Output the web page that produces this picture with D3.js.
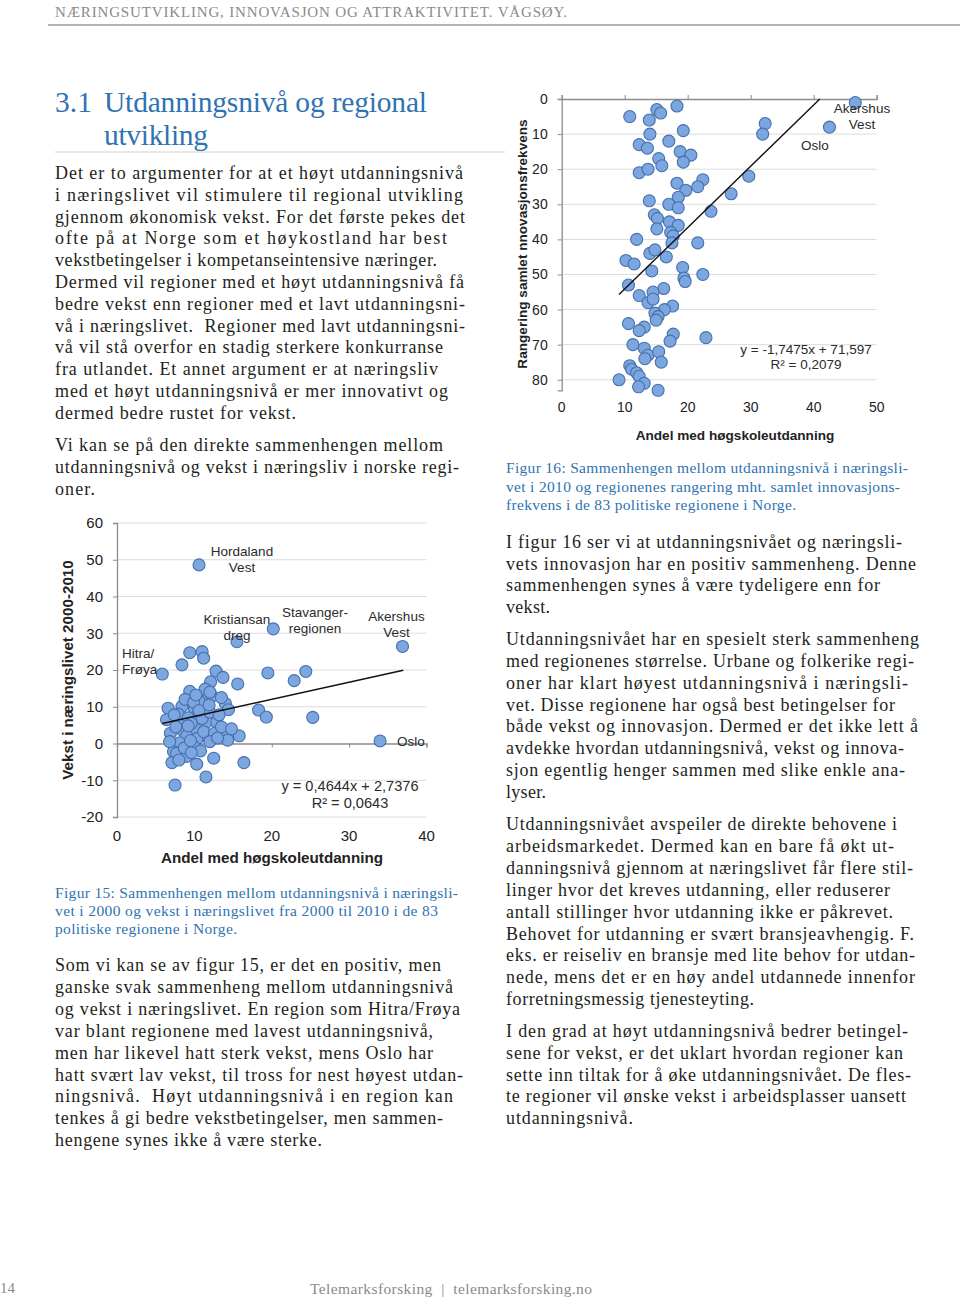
<!DOCTYPE html>
<html><head><meta charset="utf-8">
<script src="https://cdn.jsdelivr.net/npm/d3@7/dist/d3.min.js"></script>
<style>body{margin:0;background:#fff}svg{display:block}</style>
</head><body>
<svg id="page" width="960" height="1298"></svg>
<script>
// ---------- DATA ----------
// Figure 15: share with higher education (x) vs. growth 2000-2010 (y)
const fig15X = [10.6,15.5,20.2,36.9,34.0,5.85,9.4,11.0,11.2,8.4,12.8,13.7,12.1,15.6,9.4,11.4,19.5,22.9,24.4,11.6,12.3,10.6,14.0,14.4,18.3,19.3,25.3,6.6,8.4,10.0,6.4,8.1,10.3,11.6,12.9,10.1,8.4,6.9,9.0,10.4,11.8,14.3,14.3,15.8,8.1,10.0,7.3,7.7,9.0,7.1,10.3,12.5,16.4,11.5,7.5,
  7.9,9.2,9.6,11.0,12.0,13.2,8.8,9.9,7.6,11.2,12.6,13.5,8.7,9.5,10.8,12.0,13.0,6.8,7.4,9.2,10.6,11.9,13.5,12.0,10.2,14.8,8.0,9.6];
const fig15Y = [48.6,27.7,31.2,26.4,0.7,18.9,24.7,25.0,23.2,21.4,19.7,18.0,16.8,16.2,14.2,14.8,19.2,17.1,19.6,11.9,12.9,11.6,10.9,9.2,9.1,7.2,7.1,9.6,10.1,9.6,6.5,6.1,7.5,5.9,5.9,4.1,3.7,2.8,2.1,1.4,1.7,2.3,0.9,2.1,0.2,-0.9,-2.2,-2.7,-3.5,-5.2,-5.6,-4.0,-5.2,-9.1,-11.3,
  8.0,7.0,5.5,6.8,8.5,7.8,12.0,11.2,4.5,3.2,2.8,4.5,-1.2,0.8,-2.0,0.5,1.5,0.5,7.8,4.8,9.0,10.5,12.5,14.0,13.2,4.0,-4.5,-2.5];
const fig15Labels = [["Hordaland","Vest"],["Kristiansan","dreg"],["Stavanger-","regionen"],["Akershus","Vest"],["Hitra/","Frøya"],["Oslo"]];
const fig15XTicks = [0,10,20,30,40];
const fig15YTicks = [60,50,40,30,20,10,0,-10,-20];
const fig15Trend = {slope:0.4644, intercept:2.7376, from:5.85, to:37.0};
const fig15Eq = ["y = 0,4644x + 2,7376","R² = 0,0643"];

// Figure 16: share with higher education (x) vs. innovation rank (y)
const fig16X = [10.8,15.1,15.7,18.3,13.9,14.0,19.3,12.3,13.6,17.0,18.8,20.5,15.4,19.3,15.9,12.3,13.7,18.3,22.4,21.6,19.7,18.5,26.9,13.9,17.0,18.5,23.7,14.7,15.2,17.1,18.5,15.1,17.3,17.7,11.9,17.5,21.6,14.0,14.8,16.6,10.2,11.5,14.3,19.2,19.4,22.4,
  19.6,10.6,16.2,14.5,12.3,13.7,14.5,17.6,16.3,14.8,15.3,15.0,10.6,13.1,12.3,17.7,17.2,22.9,11.3,13.1,13.7,13.2,15.4,15.8,10.8,11.1,11.9,12.3,9.1,13.1,12.2,15.3,
  46.6,32.3,31.9,42.5,29.7];
const fig16Y = [5,3,4,2,6,10,9,13,14,12,15,16,17,18,19,21,20,24,23,25,26,28,27,29,30,31,32,33,34,35,36,37,38,39,40,41,41,44,43,45,46,47,49,48,51,50,
  52,53,54,55,56,58,57,59,60,61,62,63,64,65,66,67,69,68,70,71,73,74,72,75,76,77,78,79,80,81,82,83,
  1,7,10,8,22];
const fig16Labels = [["Akershus","Vest"],["Oslo"]];
const fig16XTicks = [0,10,20,30,40,50];
const fig16YTicks = [0,10,20,30,40,50,60,70,80];
const fig16Trend = {slope:-1.7475, intercept:71.597, from:9.1, to:40.97};
const fig16Eq = ["y = -1,7475x + 71,597","R² = 0,2079"];

// ---------- PAGE TEXT ----------
const headerText = "NÆRINGSUTVIKLING, INNOVASJON OG ATTRAKTIVITET. VÅGSØY.";
const titleLines = ["Utdanningsnivå og regional","utvikling"];
const leftPara1 = [
 ["Det er to argumenter for at et høyt utdanningsnivå",463],
 ["i næringslivet vil stimulere til regional utvikling",463],
 ["gjennom økonomisk vekst. For det første pekes det",465],
 ["ofte på at Norge som et høykostland har best",447],
 ["vekstbetingelser i kompetanseintensive næringer.",437],
 ["Dermed vil regioner med et høyt utdanningsnivå få",464],
 ["bedre vekst enn regioner med et lavt utdanningsni-",465],
 ["vå i næringslivet.  Regioner med lavt utdanningsni-",465],
 ["vå vil stå overfor en stadig sterkere konkurranse",443],
 ["fra utlandet. Et annet argument er at næringsliv",438],
 ["med et høyt utdanningsnivå er mer innovativt og",448],
 ["dermed bedre rustet for vekst.",296]];
const leftPara2 = [
 ["Vi kan se på den direkte sammenhengen mellom",443],
 ["utdanningsnivå og vekst i næringsliv i norske regi-",459],
 ["oner.",95]];
const cap15 = [
 ["Figur 15: Sammenhengen mellom utdanningsnivå i næringsli-",458],
 ["vet i 2000 og vekst i næringslivet fra 2000 til 2010 i de 83",438],
 ["politiske regionene i Norge.",237]];
const leftPara3 = [
 ["Som vi kan se av figur 15, er det en positiv, men",441],
 ["ganske svak sammenheng mellom utdanningsnivå",453],
 ["og vekst i næringslivet. En region som Hitra/Frøya",460],
 ["var blant regionene med lavest utdanningsnivå,",433],
 ["men har likevel hatt sterk vekst, mens Oslo har",433],
 ["hatt svært lav vekst, til tross for nest høyest utdan-",463],
 ["ningsnivå.  Høyt utdanningsnivå i en region kan",453],
 ["tenkes å gi bedre vekstbetingelser, men sammen-",443],
 ["hengene synes ikke å være sterke.",322]];
const cap16 = [
 ["Figur 16: Sammenhengen mellom utdanningsnivå i næringsli-",908],
 ["vet i 2010 og regionenes rangering mht. samlet innovasjons-",900],
 ["frekvens i de 83 politiske regionene i Norge.",796]];
const rightPara1 = [
 ["I figur 16 ser vi at utdanningsnivået og næringsli-",902],
 ["vets innovasjon har en positiv sammenheng. Denne",916],
 ["sammenhengen synes å være tydeligere enn for",880],
 ["vekst.",550]];
const rightPara2 = [
 ["Utdanningsnivået har en spesielt sterk sammenheng",919],
 ["med regionenes størrelse. Urbane og folkerike regi-",914],
 ["oner har klart høyest utdanningsnivå i næringsli-",908],
 ["vet. Disse regionene har også best betingelser for",895],
 ["både vekst og innovasjon. Dermed er det ikke lett å",918],
 ["avdekke hvordan utdanningsnivå, vekst og innova-",904],
 ["sjon egentlig henger sammen med slike enkle ana-",905],
 ["lyser.",546]];
const rightPara3 = [
 ["Utdanningsnivået avspeiler de direkte behovene i",897],
 ["arbeidsmarkedet. Dermed kan en bare få økt ut-",894],
 ["danningsnivå gjennom at næringslivet får flere stil-",913],
 ["linger hvor det kreves utdanning, eller reduserer",890],
 ["antall stillinger hvor utdanning ikke er påkrevet.",893],
 ["Behovet for utdanning er svært bransjeavhengig. F.",914],
 ["eks. er reiseliv en bransje med lite behov for utdan-",915],
 ["nede, mens det er en høy andel utdannede innenfor",915],
 ["forretningsmessig tjenesteyting.",754]];
const rightPara4 = [
 ["I den grad at høyt utdanningsnivå bedrer betingel-",908],
 ["sene for vekst, er det uklart hvordan regioner kan",903],
 ["sette inn tiltak for å øke utdanningsnivået. De fles-",911],
 ["te regioner vil ønske vekst i arbeidsplasser uansett",906],
 ["utdanningsnivå.",633]];

// ---------- DRAW ----------
const svg = d3.select("#page");
const SERIF = "'Liberation Serif','DejaVu Serif',serif";
const SANS = "'Liberation Sans',Arial,sans-serif";
const BLUE = "#2f73b1";

function block(lines, x, y0, dy, size, color){
  lines.forEach(([t,right],i)=>{
    const el = svg.append("text").attr("x",x).attr("y",y0+i*dy)
      .attr("font-family",SERIF).attr("font-size",size).attr("fill",color).text(t)
      .style("white-space","pre");
    const w = el.node().getComputedTextLength();
    const target = right - x;
    if (Math.abs(w-target) > 1) el.attr("textLength",target).attr("lengthAdjust","spacing");
  });
}

// header
svg.append("text").attr("x",55).attr("y",17).attr("font-family",SERIF).attr("font-size",15)
  .attr("fill","#8a8a8a").attr("textLength",512).attr("lengthAdjust","spacing").text(headerText);
svg.append("line").attr("x1",48).attr("x2",960).attr("y1",25).attr("y2",25).attr("stroke","#9a9a9a").attr("stroke-width",1.5);

// title
svg.append("text").attr("x",55).attr("y",112).attr("font-family",SERIF).attr("font-size",29.5).attr("fill",BLUE).text("3.1");
svg.append("text").attr("x",104).attr("y",112).attr("font-family",SERIF).attr("font-size",29.5).attr("fill",BLUE)
  .attr("textLength",323).attr("lengthAdjust","spacing").text(titleLines[0]);
svg.append("text").attr("x",104).attr("y",145).attr("font-family",SERIF).attr("font-size",29.5).attr("fill",BLUE)
  .attr("textLength",104).attr("lengthAdjust","spacing").text(titleLines[1]);
svg.append("line").attr("x1",55).attr("x2",505).attr("y1",152).attr("y2",152).attr("stroke","#d0d0d0").attr("stroke-width",1);

const TXT = "#231f20";
block(leftPara1,55,179,21.8,18,TXT);
block(leftPara2,55,451,21.8,18,TXT);
block(cap15,55,898,18,15.5,BLUE);
block(leftPara3,55,971,21.9,18,TXT);
block(cap16,506,473,18.5,15.5,BLUE);
block(rightPara1,506,548,21.7,18,TXT);
block(rightPara2,506,645,21.86,18,TXT);
block(rightPara3,506,830,21.9,18,TXT);
block(rightPara4,506,1037,21.75,18,TXT);

// footer
svg.append("text").attr("x",0).attr("y",1293).attr("font-family",SERIF).attr("font-size",15).attr("fill","#8a8a8a").text("14");
svg.append("text").attr("x",451).attr("y",1294).attr("text-anchor","middle").attr("font-family",SERIF).attr("font-size",15.5)
  .attr("fill","#8a8a8a").style("white-space","pre").attr("textLength",282).attr("lengthAdjust","spacing")
  .text("Telemarksforsking  |  telemarksforsking.no");

// ---------- chart helpers ----------
const PT_FILL = "#7ba6df", PT_STROKE = "#4770ad", GRID = "#dcdcdc", AXIS = "#8c8c8c";
function points(g, xs, ys, x, y){
  g.selectAll("circle.pt").data(xs.map((v,i)=>[v,ys[i]])).join("circle").attr("class","pt")
    .attr("cx",d=>x(d[0])).attr("cy",d=>y(d[1])).attr("r",6)
    .attr("fill",PT_FILL).attr("stroke",PT_STROKE).attr("stroke-width",1.1);
}
function label(g, lines, cx, cy, anchor, size){
  lines.forEach((t,i)=>g.append("text").attr("x",cx).attr("y",cy+i*16).attr("dy","0.35em")
    .attr("text-anchor",anchor||"middle").attr("font-family",SANS).attr("font-size",size||13.5).attr("fill","#2b2b2b").text(t));
}
const fmt = d => String(d);

// ---------- Figure 15 ----------
{
  const g = svg.append("g");
  const x = d3.scaleLinear().domain([0,40]).range([117,426.5]);
  const y = d3.scaleLinear().domain([-20,60]).range([817,523]);
  g.selectAll("line.grid").data(fig15YTicks.filter(v=>v!==0)).join("line").attr("class","grid")
    .attr("x1",x(0)).attr("x2",x(40)).attr("y1",d=>y(d)).attr("y2",d=>y(d)).attr("stroke",GRID).attr("stroke-width",1);
  const ya = g.append("g").attr("transform",`translate(${x(0)},0)`)
    .call(d3.axisLeft(y).tickValues(fig15YTicks).tickSize(4).tickPadding(10).tickFormat(fmt));
  const xa = g.append("g").attr("transform",`translate(0,${y(0)})`)
    .call(d3.axisBottom(x).tickValues(fig15XTicks).tickSize(4).tickFormat(""));
  [ya,xa].forEach(a=>{a.select(".domain").attr("stroke",AXIS).attr("stroke-width",1.3);
    a.selectAll(".tick line").attr("stroke",AXIS);
    a.selectAll("text").attr("font-family",SANS).attr("font-size",15).attr("fill","#222");});
  g.selectAll("text.xl").data(fig15XTicks).join("text").attr("class","xl")
    .attr("x",d=>x(d)).attr("y",836).attr("dy","0.35em").attr("text-anchor","middle")
    .attr("font-family",SANS).attr("font-size",15).attr("fill","#222").text(fmt);
  points(g, fig15X, fig15Y, x, y);
  g.append("line").attr("x1",x(fig15Trend.from)).attr("y1",y(fig15Trend.slope*fig15Trend.from+fig15Trend.intercept))
    .attr("x2",x(fig15Trend.to)).attr("y2",y(fig15Trend.slope*fig15Trend.to+fig15Trend.intercept))
    .attr("stroke","#111").attr("stroke-width",1.4);
  label(g, fig15Labels[0], 242, 551);
  label(g, fig15Labels[1], 237, 619);
  label(g, fig15Labels[2], 315, 612);
  label(g, fig15Labels[3], 396.5, 616);
  label(g, fig15Labels[4], 122, 653, "start");
  label(g, fig15Labels[5], 397, 741, "start");
  label(g, fig15Eq.slice(0,1), 350, 786, "middle", 14.6);
  label(g, fig15Eq.slice(1), 350, 803, "middle", 14.6);
  g.append("text").attr("transform","translate(68,670) rotate(-90)").attr("dy","0.35em").attr("text-anchor","middle")
    .attr("font-family",SANS).attr("font-weight","bold").attr("font-size",15.2).attr("fill","#222").text("Vekst i næringslivet 2000-2010");
  g.append("text").attr("x",272).attr("y",858).attr("dy","0.35em").attr("text-anchor","middle")
    .attr("font-family",SANS).attr("font-weight","bold").attr("font-size",15.2).attr("fill","#222").text("Andel med høgskoleutdanning");
}

// ---------- Figure 16 ----------
{
  const g = svg.append("g");
  const x = d3.scaleLinear().domain([0,50]).range([561.7,876.7]);
  const y = d3.scaleLinear().domain([0,83]).range([99,390.3]);
  g.selectAll("line.grid").data(fig16YTicks.filter(v=>v!==0)).join("line").attr("class","grid")
    .attr("x1",x(0)).attr("x2",x(50)).attr("y1",d=>y(d)).attr("y2",d=>y(d)).attr("stroke",GRID).attr("stroke-width",1);
  const ya = g.append("g").attr("transform",`translate(${x(0)},0)`)
    .call(d3.axisLeft(y).tickValues(fig16YTicks).tickSize(4).tickPadding(10).tickFormat(fmt));
  const xa = g.append("g").attr("transform",`translate(0,${y(0)})`)
    .call(d3.axisTop(x).tickValues(fig16XTicks).tickSize(4).tickFormat(""));
  [ya,xa].forEach(a=>{a.select(".domain").attr("stroke",AXIS).attr("stroke-width",1.3);
    a.selectAll(".tick line").attr("stroke",AXIS);
    a.selectAll("text").attr("font-family",SANS).attr("font-size",14).attr("fill","#222");});
  g.selectAll("text.xl").data(fig16XTicks).join("text").attr("class","xl")
    .attr("x",d=>x(d)).attr("y",407).attr("dy","0.35em").attr("text-anchor","middle")
    .attr("font-family",SANS).attr("font-size",14).attr("fill","#222").text(fmt);
  points(g, fig16X, fig16Y, x, y);
  g.append("line").attr("x1",x(fig16Trend.from)).attr("y1",y(fig16Trend.slope*fig16Trend.from+fig16Trend.intercept))
    .attr("x2",x(fig16Trend.to)).attr("y2",y(fig16Trend.slope*fig16Trend.to+fig16Trend.intercept))
    .attr("stroke","#111").attr("stroke-width",1.4);
  label(g, fig16Labels[0], 862, 108);
  label(g, fig16Labels[1], 815, 145);
  label(g, fig16Eq.slice(0,1), 806, 349);
  label(g, fig16Eq.slice(1), 806, 364);
  g.append("text").attr("transform","translate(522,244) rotate(-90)").attr("dy","0.35em").attr("text-anchor","middle")
    .attr("font-family",SANS).attr("font-weight","bold").attr("font-size",13.6).attr("fill","#222").text("Rangering samlet nnovasjonsfrekvens");
  g.append("text").attr("x",735).attr("y",435).attr("dy","0.35em").attr("text-anchor","middle")
    .attr("font-family",SANS).attr("font-weight","bold").attr("font-size",13.6).attr("fill","#222").text("Andel med høgskoleutdanning");
}
</script>
</body></html>
